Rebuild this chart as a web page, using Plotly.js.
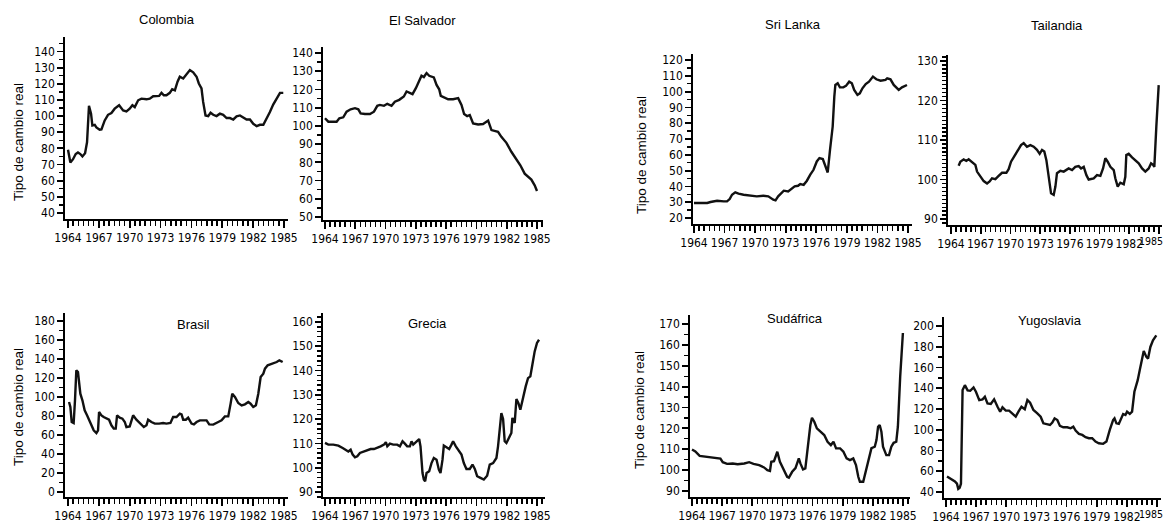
<!DOCTYPE html>
<html>
<head>
<meta charset="utf-8">
<script src="https://cdn.plot.ly/plotly-3.0.1.min.js"></script>
<style>html,body{margin:0;padding:0;background:#fff;}#chart{width:1166px;height:523px;}</style>
</head>
<body>
<div id="chart"></div>
<script>
// ---------------- DATA ----------------
const countryNames = ['Colombia','El Salvador','Sri Lanka','Tailandia','Brasil','Grecia','Sudáfrica','Yugoslavia'];
const yAxisTitle = 'Tipo de cambio real';
const xTickYears = [1964,1967,1970,1973,1976,1979,1982,1985];

const colombiaYears = [1964.00,1964.23,1964.49,1964.75,1964.97,1965.20,1965.40,1965.66,1965.85,1965.98,1966.04,1966.24,1966.37,1966.60,1966.76,1967.08,1967.25,1967.57,1967.89,1968.22,1968.54,1968.97,1969.36,1969.68,1970.00,1970.26,1970.49,1970.82,1971.14,1971.63,1971.95,1972.28,1972.60,1972.86,1973.09,1973.32,1973.57,1973.90,1974.13,1974.39,1974.65,1974.87,1975.20,1975.52,1975.85,1976.17,1976.50,1976.72,1976.98,1977.14,1977.37,1977.63,1977.86,1978.12,1978.44,1978.77,1979.09,1979.42,1979.74,1980.07,1980.39,1980.72,1981.04,1981.36,1981.69,1982.01,1982.34,1982.66,1982.99,1983.31,1983.63,1983.95,1984.29,1984.61,1984.93];
const colombiaValues = [79.2,71.2,73.3,76.5,77.5,76.5,75.0,77.0,83.8,98.3,106.3,101.5,94.2,94.6,93.0,91.5,91.7,97.3,100.8,101.9,104.6,106.7,103.5,102.9,104.6,106.7,105.6,109.8,110.8,110.4,110.8,112.3,112.3,112.5,114.4,112.9,112.9,114.4,116.7,116.0,121.3,124.4,123.3,125.8,128.5,127.1,124.4,120.2,117.1,108.8,100.4,100.0,102.1,100.8,100.0,101.5,100.8,98.8,98.8,97.9,99.8,100.4,99.4,97.9,97.9,95.2,93.8,94.6,94.6,98.3,102.5,107.1,110.8,114.4,114.4];
const colombiaYTicks = [40,50,60,70,80,90,100,110,120,130,140];

const elSalvadorYears = [1964.00,1964.33,1964.82,1965.15,1965.42,1965.81,1966.14,1966.54,1966.97,1967.30,1967.53,1967.96,1968.45,1968.85,1969.18,1969.44,1969.84,1970.17,1970.59,1970.92,1971.35,1971.81,1972.08,1972.34,1972.67,1973.00,1973.33,1973.56,1973.79,1974.06,1974.32,1974.55,1974.78,1975.05,1975.31,1975.47,1975.87,1976.20,1976.69,1977.19,1977.52,1977.78,1978.08,1978.34,1978.67,1979.17,1979.66,1979.99,1980.16,1980.49,1980.82,1981.14,1981.47,1981.97,1982.46,1982.96,1983.35,1983.78,1984.11,1984.44,1984.77,1985.00];
const elSalvadorValues = [104.2,102.3,102.3,102.3,104.2,104.7,107.8,109.1,109.7,109.1,106.9,106.5,106.5,107.8,111.0,111.5,111.0,112.1,111.0,113.3,114.3,116.1,118.9,118.3,117.4,120.7,125.3,127.5,126.8,129.0,127.5,127.1,126.6,122.5,120.1,116.5,115.7,114.6,114.6,115.2,111.5,106.5,105.4,106.0,101.4,100.8,101.0,102.3,102.9,97.7,97.4,96.8,94.0,90.7,85.8,81.5,78.4,73.8,72.0,70.5,67.4,64.3];
const elSalvadorYTicks = [50,60,70,80,90,100,110,120,130,140];

const sriLankaYears = [1964.00,1964.65,1965.30,1965.62,1966.27,1966.92,1967.24,1967.50,1967.73,1968.05,1968.37,1968.86,1969.51,1970.16,1970.80,1971.29,1971.78,1972.00,1972.26,1972.59,1972.81,1973.24,1973.56,1973.88,1974.21,1974.43,1974.76,1975.08,1975.41,1975.73,1976.05,1976.31,1976.64,1976.90,1977.12,1977.35,1977.61,1977.77,1977.87,1978.10,1978.32,1978.65,1978.91,1979.23,1979.49,1979.72,1980.04,1980.27,1980.53,1980.85,1981.17,1981.56,1981.89,1982.31,1982.79,1982.96,1983.28,1983.60,1984.09,1984.41,1984.90];
const sriLankaValues = [29.5,29.5,29.5,30.1,30.9,30.5,30.5,32.0,34.7,36.2,35.4,34.7,34.3,33.7,34.1,33.7,31.6,31.2,33.7,36.2,37.3,36.8,38.3,40.0,40.4,41.5,41.0,43.6,47.4,50.5,55.8,57.9,57.3,52.6,48.8,63.2,77.9,96.8,104.2,105.3,102.7,102.7,103.6,106.3,105.3,101.1,97.9,98.9,102.1,104.8,106.3,109.5,107.8,106.9,107.4,108.4,107.8,104.2,101.1,102.7,104.2];
const sriLankaYTicks = [20,30,40,50,60,70,80,90,100,110,120];

const tailandiaYears = [1964.77,1964.94,1965.28,1965.55,1965.78,1966.12,1966.46,1966.63,1966.96,1967.30,1967.64,1967.90,1968.14,1968.48,1968.81,1969.15,1969.59,1969.82,1970.06,1970.40,1970.73,1971.07,1971.34,1971.67,1972.01,1972.35,1972.68,1972.95,1973.19,1973.42,1973.63,1973.86,1974.10,1974.37,1974.54,1974.70,1975.04,1975.38,1975.65,1975.88,1976.22,1976.55,1976.89,1977.13,1977.40,1977.67,1977.90,1978.41,1978.74,1979.08,1979.35,1979.58,1979.82,1980.09,1980.43,1980.59,1980.83,1981.10,1981.44,1981.60,1981.70,1981.94,1982.28,1982.61,1982.95,1983.29,1983.62,1983.96,1984.20,1984.40,1984.53,1984.73,1984.97];
const tailandiaValues = [103.5,104.5,105.1,104.7,105.1,104.5,103.7,102.0,100.9,99.6,99.0,99.5,100.3,100.1,100.9,101.7,101.7,102.6,104.5,105.9,107.5,108.7,109.2,108.3,108.7,108.3,107.5,106.5,107.5,107.1,104.9,100.3,96.5,96.1,98.2,101.6,102.2,102.0,102.4,102.8,102.4,103.2,103.4,102.8,103.2,101.1,100.0,100.3,101.1,100.9,102.8,105.4,104.5,103.2,102.4,100.3,98.2,99.2,98.8,100.7,106.2,106.5,105.6,104.9,104.1,102.8,102.0,102.8,104.1,103.7,103.2,113.4,123.9];
const tailandiaYTicks = [90,100,110,120,130];

const brasilYears = [1964.10,1964.23,1964.36,1964.55,1964.68,1964.81,1964.97,1965.07,1965.20,1965.40,1965.62,1965.85,1966.04,1966.27,1966.50,1966.76,1966.92,1967.02,1967.25,1967.47,1967.73,1967.99,1968.22,1968.45,1968.64,1968.77,1969.03,1969.29,1969.52,1969.68,1970.00,1970.33,1970.65,1970.98,1971.37,1971.63,1971.79,1972.11,1972.44,1972.86,1973.25,1973.57,1973.96,1974.22,1974.55,1974.87,1975.04,1975.20,1975.46,1975.68,1976.01,1976.24,1976.50,1976.82,1977.21,1977.47,1977.73,1978.12,1978.61,1978.93,1979.25,1979.58,1979.81,1979.97,1980.23,1980.55,1980.88,1981.20,1981.53,1981.75,1982.01,1982.27,1982.50,1982.73,1982.99,1983.15,1983.41,1983.70,1983.96,1984.29,1984.55,1984.87];
const brasilValues = [94.7,89.5,73.7,72.6,96.5,128.1,126.3,114.0,103.5,96.5,86.0,80.7,76.1,70.2,64.9,62.1,64.9,84.2,80.7,78.9,77.2,76.1,70.2,66.7,66.7,80.7,78.2,77.2,73.7,68.4,69.1,80.7,76.1,72.6,68.4,70.2,76.1,73.7,72.0,72.0,72.6,72.0,72.6,78.9,78.9,82.5,81.8,76.1,76.1,78.2,72.0,71.2,73.7,75.4,75.4,75.4,71.2,70.9,73.7,75.4,79.6,79.6,93.0,103.5,100.0,93.7,91.2,92.3,94.7,93.0,89.5,91.2,103.5,121.0,124.6,129.8,133.3,134.4,135.1,136.8,138.6,136.8];
const brasilYTicks = [0,20,40,60,80,100,120,140,160,180];

const greciaYears = [1964.00,1964.33,1964.82,1965.32,1965.75,1966.08,1966.31,1966.54,1966.74,1966.97,1967.20,1967.46,1967.86,1968.19,1968.52,1968.85,1969.18,1969.51,1969.84,1970.03,1970.17,1970.43,1970.76,1971.15,1971.42,1971.68,1971.91,1972.14,1972.41,1972.57,1972.74,1973.00,1973.33,1973.46,1973.66,1973.79,1973.92,1974.06,1974.32,1974.55,1974.78,1975.05,1975.28,1975.44,1975.64,1975.77,1976.03,1976.30,1976.53,1976.69,1976.96,1977.19,1977.52,1977.75,1978.01,1978.34,1978.61,1978.84,1979.07,1979.40,1979.73,1980.06,1980.32,1980.65,1980.98,1981.14,1981.31,1981.47,1981.64,1981.80,1981.97,1982.23,1982.46,1982.56,1982.79,1982.96,1983.16,1983.35,1983.62,1983.88,1984.11,1984.34,1984.54,1984.77,1985.00,1985.20];
const greciaValues = [110.2,109.5,109.5,109.1,108.1,107.2,106.7,107.4,105.4,104.3,104.7,106.1,106.7,107.0,107.7,107.7,108.1,108.8,109.5,110.5,108.8,109.9,109.5,109.5,108.8,110.9,109.9,108.8,108.8,110.9,109.5,110.5,111.8,108.8,97.8,95.1,94.4,97.8,98.5,101.9,104.0,103.3,99.2,97.8,103.3,109.1,108.5,107.7,109.5,110.9,108.8,107.4,105.4,101.9,99.5,99.5,101.3,99.5,96.5,95.8,95.1,96.7,101.3,101.9,104.0,108.8,117.0,122.5,120.1,110.9,110.2,112.2,114.3,120.5,118.4,128.3,126.6,123.9,129.4,133.5,136.9,137.6,142.4,147.9,151.4,152.7];
const greciaYTicks = [90,100,110,120,130,140,150,160];

const sudafricaYears = [1964.00,1964.33,1964.76,1965.58,1966.57,1966.83,1967.06,1967.49,1968.05,1968.54,1969.20,1969.69,1970.12,1970.68,1971.17,1971.50,1971.76,1971.89,1972.16,1972.49,1972.75,1973.14,1973.47,1973.64,1973.97,1974.30,1974.63,1974.79,1975.05,1975.28,1975.61,1975.78,1975.94,1976.17,1976.43,1976.83,1977.16,1977.49,1977.82,1978.08,1978.34,1978.74,1979.07,1979.39,1979.72,1980.05,1980.32,1980.55,1980.71,1981.04,1981.30,1981.63,1981.86,1982.19,1982.36,1982.52,1982.68,1982.85,1983.01,1983.34,1983.61,1983.84,1984.07,1984.33,1984.49,1984.72,1984.99];
const sudafricaValues = [109.9,109.0,106.8,106.3,106.0,105.5,103.8,103.0,103.2,102.8,103.2,103.8,103.0,102.4,101.3,100.0,99.6,104.0,104.3,108.8,104.0,100.0,96.8,96.4,99.2,101.0,105.6,103.2,100.3,100.8,114.4,121.6,125.1,123.2,120.0,118.4,116.8,113.6,112.0,113.6,110.4,110.4,108.8,105.6,104.8,105.6,102.4,96.8,94.4,94.4,99.2,106.4,110.5,111.2,114.4,120.8,121.6,118.4,111.2,107.2,107.2,111.2,113.1,113.6,120.8,144.8,165.7];
const sudafricaYTicks = [90,100,110,120,130,140,150,160,170];

const yugoslaviaYears = [1964.10,1964.50,1964.89,1965.09,1965.22,1965.36,1965.49,1965.65,1965.88,1966.15,1966.41,1966.74,1966.98,1967.31,1967.64,1967.87,1968.13,1968.46,1968.79,1969.13,1969.39,1969.62,1969.95,1970.28,1970.61,1970.94,1971.21,1971.51,1971.84,1972.10,1972.37,1972.70,1973.09,1973.42,1973.69,1974.02,1974.35,1974.58,1974.81,1975.08,1975.34,1975.67,1976.07,1976.40,1976.67,1976.90,1977.23,1977.56,1977.89,1978.22,1978.55,1978.88,1979.21,1979.64,1979.97,1980.30,1980.63,1980.77,1980.96,1981.20,1981.43,1981.63,1981.86,1982.02,1982.29,1982.52,1982.75,1983.08,1983.28,1983.51,1983.68,1983.94,1984.11,1984.34,1984.60,1984.93];
const yugoslaviaValues = [55.0,52.5,50.2,48.0,43.0,44.0,48.0,138.2,143.0,138.0,137.6,140.8,136.6,128.6,129.3,131.8,125.4,124.8,129.3,122.2,117.4,121.6,118.4,118.4,115.2,112.6,117.4,122.2,119.7,128.6,126.1,119.0,115.8,112.6,106.2,105.6,104.6,106.9,111.0,109.4,103.7,102.4,102.4,101.4,103.0,99.2,96.0,95.0,92.8,91.8,91.8,88.6,87.0,86.4,88.6,99.8,109.4,111.0,106.2,105.6,111.0,115.2,114.2,117.4,115.2,117.4,136.6,147.8,157.4,170.2,176.0,170.2,168.6,179.8,186.2,191.0];
const yugoslaviaYTicks = [40,60,80,100,120,140,160,180,200];

// ---------------- LAYOUT GEOMETRY (pixels) ----------------
const W = 1166, H = 523;
// edgeLabelY: panels whose last year label sits on the right page edge get it as a right-aligned text instead
const panels = [
  {years:colombiaYears, vals:colombiaValues, yt:colombiaYTicks, axL:65, x64:68, x85:284, axR:288, yTop:37, yBot:219, vA:140, pA:53, vB:40, pB:213, minorY:5, tx:167, ty:20, yTitle:[18,142]},
  {years:elSalvadorYears, vals:elSalvadorValues, yt:elSalvadorYTicks, axL:323, x64:325, x85:537, axR:543, yTop:47, yBot:220, vA:140, pA:53, vB:50, pB:217, minorY:5, tx:422, ty:21},
  {years:sriLankaYears, vals:sriLankaValues, yt:sriLankaYTicks, axL:693, x64:694, x85:908, axR:912, yTop:54, yBot:224, vA:120, pA:60, vB:20, pB:218, minorY:5, tx:793, ty:24, yTitle:[641,155]},
  {years:tailandiaYears, vals:tailandiaValues, yt:tailandiaYTicks, axL:948, x64:951, x85:1159, axR:1162, yTop:55, yBot:225, vA:130, pA:61, vB:90, pB:219, minorY:1, tx:1057, ty:25, edgeLabelY:241},
  {years:brasilYears, vals:brasilValues, yt:brasilYTicks, axL:65, x64:68, x85:284, axR:288, yTop:313, yBot:497, vA:180, pA:321, vB:0, pB:492, minorY:10, tx:193, ty:324, yTitle:[18,407]},
  {years:greciaYears, vals:greciaValues, yt:greciaYTicks, axL:323, x64:325, x85:537, axR:545, yTop:313, yBot:497, vA:160, pA:322, vB:90, pB:492, minorY:2, tx:427, ty:323},
  {years:sudafricaYears, vals:sudafricaValues, yt:sudafricaYTicks, axL:690, x64:692, x85:903, axR:910, yTop:315, yBot:497, vA:170, pA:324, vB:90, pB:491, minorY:5, tx:795, ty:318, yTitle:[639,410]},
  {years:yugoslaviaYears, vals:yugoslaviaValues, yt:yugoslaviaYTicks, axL:944, x64:946, x85:1157, axR:1161, yTop:317, yBot:498, vA:200, pA:326, vB:40, pB:492, minorY:10, tx:1050, ty:320, edgeLabelY:514}
];

const tickFont = {family:'"Liberation Sans Narrow", "DejaVu Sans Condensed", "Arial Narrow", sans-serif', size:12, color:'#000'};
const edgeFont = {family:tickFont.family, size:10.5, color:'#000'};
const textFont = {family:'"Liberation Sans", Arial, Helvetica, sans-serif', size:13, color:'#000'};
const lastYearLabel = String(xTickYears[xTickYears.length - 1]);

const traces = [];
const layout = {
  width: W, height: H,
  margin: {l:0, r:0, t:0, b:0},
  paper_bgcolor: '#ffffff', plot_bgcolor: '#ffffff',
  showlegend: false,
  font: textFont,
  annotations: []
};

panels.forEach((p, i) => {
  const n = i + 1;
  const xs = n === 1 ? 'x' : 'x' + n;
  const ys = n === 1 ? 'y' : 'y' + n;
  traces.push({
    type:'scatter', mode:'lines', x:p.years, y:p.vals,
    xaxis:xs, yaxis:ys,
    line:{color:'#111', width:2.4, shape:'linear'},
    hoverinfo:'skip', cliponaxis:false
  });
  const pxYr = (p.x85 - p.x64) / 21;
  const xr = [1964 - (p.x64 - p.axL) / pxYr, 1985 + (p.axR - p.x85) / pxYr];
  const upp = (p.vA - p.vB) / (p.pB - p.pA);
  const yStep = p.yt[1] - p.yt[0];
  const yr = [
    Math.max(p.vB - (p.yBot - p.pB) * upp, p.yt[0] - 0.9 * yStep),
    Math.min(p.vA + (p.pA - p.yTop) * upp, p.yt[p.yt.length - 1] + 0.9 * yStep)
  ];
  const xAxis = {
    domain:[p.axL / W, p.axR / W], range:xr, anchor:ys,
    showgrid:false, zeroline:false, showline:true, linecolor:'#000', linewidth:1.8,
    tickmode:'linear', tick0:xTickYears[0], dtick:xTickYears[1] - xTickYears[0], tickangle:0,
    ticks:'outside', ticklen:7, tickwidth:1.8, tickcolor:'#000',
    tickfont:tickFont, ticklabeloverflow:'allow', fixedrange:true,
    minor:{tick0:xTickYears[0], dtick:0.5, ticks:'outside', ticklen:5, tickwidth:1.4, tickcolor:'#000', showgrid:false}
  };
  if (p.edgeLabelY) {
    xAxis.labelalias = {};
    xAxis.labelalias[lastYearLabel] = ' ';
    layout.annotations.push({
      text:lastYearLabel, xref:'paper', yref:'paper', x:1 - 1 / W, y:1 - p.edgeLabelY / H,
      xanchor:'right', yanchor:'middle', showarrow:false, font:edgeFont
    });
  }
  layout['xaxis' + (n === 1 ? '' : n)] = xAxis;
  layout['yaxis' + (n === 1 ? '' : n)] = {
    domain:[1 - p.yBot / H, 1 - p.yTop / H], range:yr, anchor:xs,
    showgrid:false, zeroline:false, showline:true, linecolor:'#000', linewidth:1.8,
    tickmode:'linear', tick0:p.yt[0], dtick:yStep, tickangle:0,
    ticks:'outside', ticklen:6, tickwidth:1.8, tickcolor:'#000',
    tickfont:tickFont, ticklabeloverflow:'allow', fixedrange:true,
    minor:{tick0:p.yt[0], dtick:p.minorY, ticks:'outside', ticklen:4, tickwidth:1.3, tickcolor:'#000', showgrid:false}
  };
  layout.annotations.push({
    text:countryNames[i], xref:'paper', yref:'paper', x:p.tx / W, y:1 - p.ty / H,
    xanchor:'center', yanchor:'middle', showarrow:false, font:textFont
  });
  if (p.yTitle) {
    layout.annotations.push({
      text:yAxisTitle, xref:'paper', yref:'paper', x:p.yTitle[0] / W, y:1 - p.yTitle[1] / H,
      xanchor:'center', yanchor:'middle', showarrow:false, textangle:-90, font:{family:textFont.family, size:13.5, color:'#000'}
    });
  }
});

Plotly.newPlot('chart', traces, layout, {displayModeBar:false, staticPlot:true});
</script>
</body>
</html>
